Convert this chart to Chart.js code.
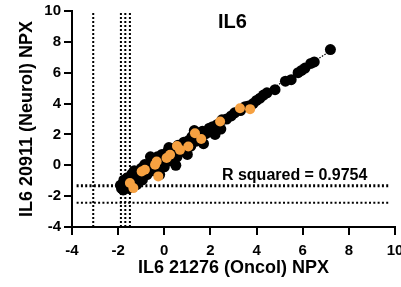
<!DOCTYPE html>
<html>
<head>
<meta charset="utf-8">
<script src="https://cdn.jsdelivr.net/npm/chart.js@4.4.1/dist/chart.umd.min.js"></script>
<style>
html,body{margin:0;padding:0;background:#fff;}
#wrap{width:401px;height:287px;position:relative;}
</style>
</head>
<body>
<div id="wrap"><canvas id="c" width="401" height="287"></canvas></div>
<script>
// ---- data ----
const chartTitle = "IL6";
const xAxisTitle = "IL6 21276 (Oncol) NPX";
const yAxisTitle = "IL6 20911 (Neurol) NPX";
const rSquaredText = "R squared = 0.9754";
const xTicks = [-4, -2, 0, 2, 4, 6, 8, 10];
const yTicks = [-4, -2, 0, 2, 4, 6, 8, 10];

const blackX = [-1.9,-1.85,-1.8,-1.78,-1.75,-1.7,-1.68,-1.65,-1.6,-1.55,-1.5,-1.45,-1.42,-1.4,-1.35,-1.3,-1.25,-1.2,-1.15,-1.1,-1.0,-0.95,-0.9,-0.85,-0.75,-0.7,-0.6,-0.6,-0.5,-0.45,-0.35,-0.3,-0.2,-0.2,-0.1,0.0,0.05,0.15,0.2,0.25,0.3,0.45,0.5,0.55,0.6,0.75,0.85,0.9,1.0,1.05,1.15,1.2,1.3,1.35,1.45,1.5,1.65,1.7,1.8,1.95,2.1,2.2,2.3,2.45,2.5,2.7,2.9,3.05,3.3,3.5,3.65,3.85,4.0,4.15,4.3,4.45,4.8,5.25,5.5,5.8,5.95,6.1,6.35,6.5,7.2];
const blackY = [-1.3,-1.5,-1.2,-1.6,-0.95,-1.45,-1.1,-1.3,-0.8,-1.5,-1.1,-0.75,-1.35,-0.55,-1.0,-0.35,-0.85,-1.25,-0.45,-0.75,-0.2,-0.95,-0.5,0.05,-0.6,-0.15,0.2,0.55,-0.35,0.4,-0.05,0.55,0.15,-0.6,0.7,-0.1,0.4,0.9,1.15,0.3,0.75,1.1,0.0,0.55,1.3,0.9,1.5,1.15,0.7,1.6,1.25,1.85,2.25,1.55,2.1,1.75,2.2,1.4,2.05,2.4,2.5,2.0,2.65,2.35,2.95,3.0,3.2,3.4,3.55,3.8,3.85,4.0,4.2,4.35,4.55,4.7,4.9,5.45,5.55,6.0,6.15,6.3,6.6,6.7,7.5];

const orangeX = [-1.34,-1.49,-0.98,-0.84,-0.26,-0.4,-0.33,0.1,0.25,0.68,1.04,1.33,2.42,3.28,3.72,0.55,1.6];
const orangeY = [-1.48,-1.15,-0.4,-0.29,-0.72,0.03,0.25,0.47,0.68,1.0,1.22,2.08,2.84,3.7,3.64,1.25,1.7];

// regression line end points (fit)
const fitX = [-1.9, 7.3];
const fitY = [-1.40, 7.51];

// dotted threshold lines
const vLinesX = [-3.08, -1.88, -1.69, -1.49];
const vLineRange = [-4, 10];
const hLinesY = [-1.33, -2.43];
const hLineWidths = [3, 2];
const hLineRange = [-3.8, 9.8];

const zip = (xs, ys) => xs.map((x, i) => ({x: x, y: ys[i]}));

const datasets = [];
datasets.push({type:'scatter', label:'orange', data: zip(orangeX, orangeY), backgroundColor:'#F6A141', borderWidth:0, pointRadius:5, order:0});
datasets.push({type:'scatter', label:'black', data: zip(blackX, blackY), backgroundColor:'#000', borderWidth:0, pointRadius:5.5, order:1});
datasets.push({type:'line', label:'fit', data: zip(fitX, fitY), borderColor:'#000', borderWidth:1.2, borderDash:[1.5,1.5], pointRadius:0, fill:false, order:2});
vLinesX.forEach(v => datasets.push({type:'line', data:[{x:v,y:vLineRange[0]},{x:v,y:vLineRange[1]}], borderColor:'#000', borderWidth:2, borderDash:[2,2], pointRadius:0, fill:false, order:3}));
hLinesY.forEach((v,i) => datasets.push({type:'line', data:[{x:hLineRange[0],y:v},{x:hLineRange[1],y:v}], borderColor:'#000', borderWidth:hLineWidths[i], borderDash:[2,2.3], pointRadius:0, fill:false, order:3}));

const textPlugin = {
  id:'texts',
  afterDraw(chart){
    const ctx = chart.ctx, xs = chart.scales.x, ys = chart.scales.y;
    ctx.save();
    // axis tick marks (outside)
    ctx.strokeStyle = '#000';
    ctx.lineWidth = 2;
    ctx.beginPath();
    xTicks.forEach(v => { const px = Math.round(xs.getPixelForValue(v)); ctx.moveTo(px, xs.top); ctx.lineTo(px, xs.top + 8); });
    yTicks.forEach(v => { const py = Math.round(ys.getPixelForValue(v)); ctx.moveTo(ys.right, py); ctx.lineTo(ys.right - 8, py); });
    ctx.stroke();
    ctx.fillStyle = '#000';
    ctx.textAlign = 'center';
    ctx.textBaseline = 'middle';
    ctx.font = "bold 20px 'Liberation Sans', Arial, sans-serif";
    ctx.fillText(chartTitle, xs.getPixelForValue(2.95), ys.getPixelForValue(9.25));
    ctx.font = "bold 16px 'Liberation Sans', Arial, sans-serif";
    ctx.fillText(rSquaredText, xs.getPixelForValue(5.65), ys.getPixelForValue(-0.65));
    ctx.restore();
  }
};

Chart.defaults.font.family = "'Liberation Sans', Arial, sans-serif";
Chart.defaults.color = '#000';

new Chart(document.getElementById('c'), {
  type:'scatter',
  data:{datasets: datasets},
  plugins:[textPlugin],
  options:{
    responsive:false,
    animation:false,
    events:[],
    layout:{padding:{top:11, right:6, left:16, bottom:8}},
    plugins:{legend:{display:false}, tooltip:{enabled:false}},
    scales:{
      x:{
        type:'linear', min:xTicks[0], max:xTicks[xTicks.length-1],
        afterBuildTicks(s){ s.ticks = xTicks.map(v=>({value:v})); },
        afterFit(s){ s.height = 52; s.paddingLeft = 0; s.paddingRight = 0; },
        ticks:{font:{size:15, weight:'bold'}, color:'#000', padding:7, maxRotation:0, autoSkip:false},
        grid:{drawOnChartArea:false, drawTicks:true, tickLength:8, color:'#000', lineWidth:2, tickColor:'#000', tickWidth:2},
        border:{display:true, color:'#000', width:2},
        title:{display:true, text:xAxisTitle, font:{size:18, weight:'bold'}, color:'#000', padding:{top:0,bottom:0}}
      },
      y:{
        type:'linear', min:yTicks[0], max:yTicks[yTicks.length-1],
        afterBuildTicks(s){ s.ticks = yTicks.map(v=>({value:v})); },
        afterFit(s){ s.width = 56; s.paddingTop = 0; s.paddingBottom = 0; },
        ticks:{font:{size:15, weight:'bold'}, color:'#000', padding:3, autoSkip:false},
        grid:{drawOnChartArea:false, drawTicks:true, tickLength:8, color:'#000', lineWidth:2, tickColor:'#000', tickWidth:2},
        border:{display:true, color:'#000', width:2},
        title:{display:true, text:yAxisTitle, font:{size:18, weight:'bold'}, color:'#000', padding:{top:0,bottom:0}}
      }
    }
  }
});
</script>
</body>
</html>
